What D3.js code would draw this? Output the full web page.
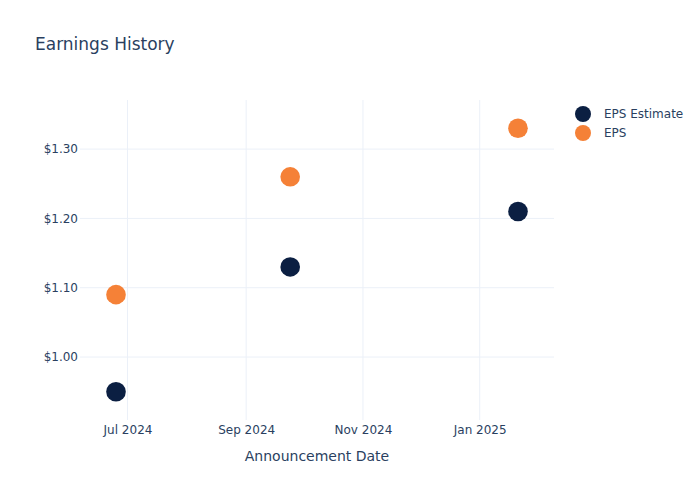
<!DOCTYPE html>
<html>
<head>
<meta charset="utf-8">
<script src="https://cdn.jsdelivr.net/npm/d3@7"></script>
<style>
  body { margin: 0; background: #fff; }
  text { font-family: "DejaVu Sans", sans-serif; fill: #2a3f5f; }
</style>
</head>
<body>
<div id="chart"></div>
<script>
const dates = ["2024-06-25", "2024-09-24", "2025-01-21"];
const epsEstimate = [0.95, 1.13, 1.21];
const eps = [1.09, 1.26, 1.33];
const yTicks = [1.00, 1.10, 1.20, 1.30];
const xTicks = ["2024-07-01", "2024-09-01", "2024-11-01", "2025-01-01"];
const series = [
  {name: "EPS Estimate", values: epsEstimate, color: "#0b1f42"},
  {name: "EPS", values: eps, color: "#f58137"}
];

const width = 700, height = 500;
const margin = {top: 100, right: 146, bottom: 80, left: 80};
const innerW = width - margin.left - margin.right;
const innerH = height - margin.top - margin.bottom;
const parse = d3.timeParse("%Y-%m-%d");
const xDates = dates.map(parse);

const svg = d3.select("#chart").append("svg")
  .attr("width", width)
  .attr("height", height);

// autorange with padding for the markers, like plotly does
const padX = 36, padY = 28.3;
const allY = epsEstimate.concat(eps);
const x0 = d3.scaleTime().domain(d3.extent(xDates)).range([padX, innerW - padX]);
const x = d3.scaleTime().domain([x0.invert(0), x0.invert(innerW)]).range([0, innerW]);
const y0 = d3.scaleLinear().domain(d3.extent(allY)).range([innerH - padY, padY]);
const y = d3.scaleLinear().domain([y0.invert(innerH), y0.invert(0)]).range([innerH, 0]);

const g = svg.append("g").attr("transform", `translate(${margin.left},${margin.top})`);

g.append("g")
  .selectAll("line")
  .data(xTicks.map(parse))
  .join("line")
  .attr("x1", d => x(d)).attr("x2", d => x(d))
  .attr("y1", 0).attr("y2", innerH)
  .attr("stroke", "#ebf0f8");

g.append("g")
  .selectAll("line")
  .data(yTicks)
  .join("line")
  .attr("x1", 0).attr("x2", innerW)
  .attr("y1", d => y(d)).attr("y2", d => y(d))
  .attr("stroke", "#ebf0f8");

const xAxis = d3.axisBottom(x)
  .tickValues(xTicks.map(parse))
  .tickFormat(d3.timeFormat("%b %Y"))
  .tickSize(0)
  .tickPadding(5);
g.append("g")
  .attr("transform", `translate(0,${innerH})`)
  .call(xAxis)
  .call(a => a.select(".domain").remove())
  .selectAll("text").attr("font-size", 12).style("fill", "#2a3f5f");

const yAxis = d3.axisLeft(y)
  .tickValues(yTicks)
  .tickFormat(d => "$" + d.toFixed(2))
  .tickSize(0)
  .tickPadding(2);
g.append("g")
  .call(yAxis)
  .call(a => a.select(".domain").remove())
  .selectAll("text").attr("font-size", 12).style("fill", "#2a3f5f");

series.forEach(s => {
  g.append("g")
    .selectAll("circle")
    .data(s.values)
    .join("circle")
    .attr("cx", (d, i) => x(xDates[i]))
    .attr("cy", d => y(d))
    .attr("r", 9.8)
    .attr("fill", s.color);
});

svg.append("text")
  .attr("x", 35)
  .attr("y", 50)
  .attr("font-size", 17)
  .text("Earnings History");

svg.append("text")
  .attr("x", margin.left + innerW / 2)
  .attr("y", 461)
  .attr("text-anchor", "middle")
  .attr("font-size", 14)
  .text("Announcement Date");

const legend = svg.append("g").attr("transform", "translate(583,114)");
series.forEach((s, i) => {
  const row = legend.append("g").attr("transform", `translate(0,${i * 19})`);
  row.append("circle").attr("r", 8).attr("fill", s.color);
  row.append("text")
    .attr("x", 21)
    .attr("dy", "0.35em")
    .attr("font-size", 12)
    .text(s.name);
});
</script>
</body>
</html>
